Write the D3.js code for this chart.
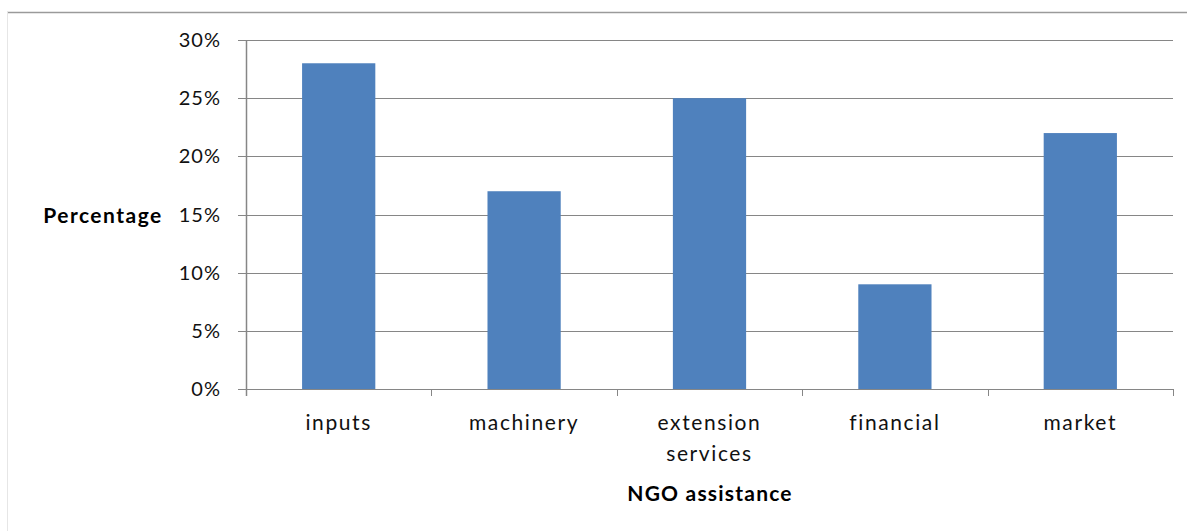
<!DOCTYPE html>
<html>
<head>
<meta charset="utf-8">
<script src="https://cdn.jsdelivr.net/npm/d3@7"></script>
<style>
  html, body { margin: 0; padding: 0; background: #fff; }
  svg { display: block; }
</style>
</head>
<body>
<svg id="chart" width="1187" height="531"></svg>
<script>
// NGO assistance categories and their shares (%)
const categories = ["inputs", "machinery", "extension services", "financial", "market"];
const values = [28, 17, 25, 9, 22];
const yTicks = [0, 5, 10, 15, 20, 25, 30];

const svg = d3.select("#chart");
const W = 1187, H = 531;
const margin = { left: 246, right: 14, top: 40, bottom: 142 };
const axisColor = "#868686";
const font = "Lato, 'Open Sans', sans-serif";

// chart frame
svg.append("line").attr("x1", 7).attr("x2", W).attr("y1", 12.5).attr("y2", 12.5)
  .attr("stroke", "#9a9a9a").attr("stroke-width", 1.5);
svg.append("line").attr("x1", 7.5).attr("x2", 7.5).attr("y1", 12).attr("y2", H)
  .attr("stroke", "#e6e6e6").attr("stroke-width", 1);

const x = d3.scaleBand().domain(categories)
  .range([margin.left, W - margin.right]).padding(0);
const y = d3.scaleLinear().domain([0, 30]).range([H - margin.bottom, margin.top]);

// gridlines
svg.append("g").selectAll("line").data(yTicks).join("line")
  .attr("x1", margin.left - 8).attr("x2", W - margin.right)
  .attr("y1", d => Math.round(y(d)) + 0.5).attr("y2", d => Math.round(y(d)) + 0.5)
  .attr("stroke", axisColor).attr("stroke-width", 1);

// bars
const barW = x.bandwidth() * 0.395;
svg.append("g").selectAll("rect").data(values).join("rect")
  .attr("x", (d, i) => x(categories[i]) + (x.bandwidth() - barW) / 2)
  .attr("width", barW)
  .attr("y", d => y(d))
  .attr("height", d => y(0) - y(d))
  .attr("fill", "#4f81bd");

// y axis line
svg.append("line").attr("x1", margin.left + 0.5).attr("x2", margin.left + 0.5)
  .attr("y1", y(30)).attr("y2", y(0) + 7)
  .attr("stroke", axisColor).attr("stroke-width", 1.5);

// x axis category separators
const bounds = categories.map(c => x(c)).concat([x.range()[1]]);
svg.append("g").selectAll("line").data(bounds.slice(1)).join("line")
  .attr("x1", d => Math.round(d) + 0.5).attr("x2", d => Math.round(d) + 0.5)
  .attr("y1", y(0)).attr("y2", y(0) + 7)
  .attr("stroke", axisColor).attr("stroke-width", 1);

// y tick labels
svg.append("g").selectAll("text").data(yTicks).join("text")
  .attr("x", 221).attr("y", d => y(d))
  .attr("dy", "0.35em").attr("text-anchor", "end")
  .attr("font-family", font).attr("font-size", 20).attr("letter-spacing", 1)
  .attr("fill", "#111")
  .text(d => d + "%");

// x category labels (wrapped)
const wrap = { "extension services": ["extension", "services"] };
const lab = svg.append("g").selectAll("text").data(categories).join("text")
  .attr("x", d => x(d) + x.bandwidth() / 2)
  .attr("y", 430)
  .attr("text-anchor", "middle")
  .attr("font-family", font).attr("font-size", 21).attr("letter-spacing", 1.6)
  .attr("fill", "#111");
lab.each(function(d) {
  const lines = wrap[d] || [d];
  d3.select(this).selectAll("tspan").data(lines).join("tspan")
    .attr("x", x(d) + x.bandwidth() / 2)
    .attr("dy", (l, i) => i === 0 ? 0 : 31)
    .text(l => l);
});

// axis titles
svg.append("text").attr("x", 103).attr("y", 216).attr("dy", "0.35em")
  .attr("text-anchor", "middle").attr("font-family", font).attr("font-weight", "bold")
  .attr("font-size", 21).attr("letter-spacing", 1.5)
  .attr("fill", "#000").text("Percentage");
svg.append("text").attr("x", 710).attr("y", 494).attr("dy", "0.35em")
  .attr("text-anchor", "middle").attr("font-family", font).attr("font-weight", "bold")
  .attr("font-size", 21).attr("letter-spacing", 1.2)
  .attr("fill", "#000").text("NGO assistance");
</script>
</body>
</html>
